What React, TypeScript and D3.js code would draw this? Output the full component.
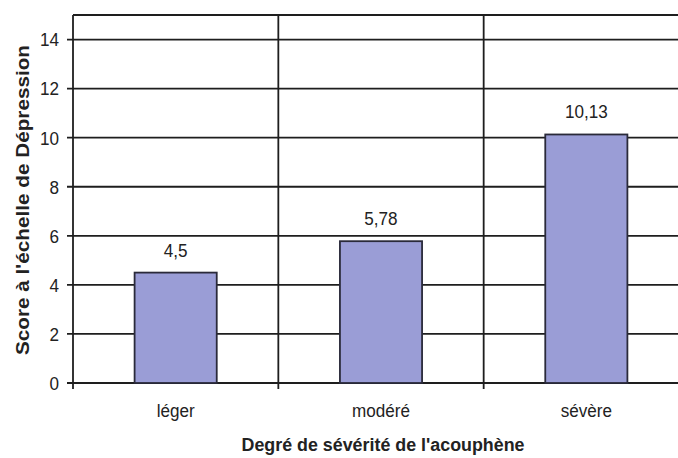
import React from "react";
import * as d3 from "d3";

const categories = ["léger", "modéré", "sévère"];
const values = [4.5, 5.78, 10.13];
const valueLabels = ["4,5", "5,78", "10,13"];
const yTicks = [0, 2, 4, 6, 8, 10, 12, 14];
const yTitle = "Score à l'échelle de Dépression";
const xTitle = "Degré de sévérité de l'acouphène";

const W = 678;
const H = 458;
const left = 73;
const right = 689;
const top = 15;
const bottom = 383;

const font = "'Liberation Sans', Arial, sans-serif";

function NText({ x, y, anchor, children, dy }: { x: number; y: number; anchor: string; children: React.ReactNode; dy?: string }) {
  return (
    <g transform={`translate(${x},${y}) scale(0.9,1)`}>
      <text x={0} y={0} dy={dy} textAnchor={anchor} fontFamily={font} fontSize={19} fill="#222">
        {children}
      </text>
    </g>
  );
}

export default function App() {
  const x = d3.scaleBand<string>().domain(categories).range([left, right]).paddingInner(0).paddingOuter(0);
  const y = d3.scaleLinear().domain([0, 15]).range([bottom, top]);
  const bw = x.bandwidth() * 0.4;
  const line = "#1e1e1e";
  return (
    <svg width={W} height={H} style={{ position: "absolute", left: 0, top: 0, background: "#fff" }}>
      <rect x={0} y={0} width={W} height={H} fill="#fff" />
      <line x1={left} x2={right} y1={top} y2={top} stroke={line} strokeWidth={1.8} />
      {yTicks.map((t) => (
        <g key={t}>
          <line x1={left - 6} x2={right} y1={y(t)} y2={y(t)} stroke={line} strokeWidth={t === 0 ? 2.2 : 1.8} />
          <NText x={59} y={y(t)} dy="0.36em" anchor="end">
            {t}
          </NText>
        </g>
      ))}
      {categories.map((c) => (
        <line key={c} x1={x(c)!} x2={x(c)!} y1={top} y2={bottom + 6} stroke={line} strokeWidth={1.8} />
      ))}
      {categories.map((c, i) => {
        const cx = x(c)! + x.bandwidth() / 2;
        return (
          <g key={c}>
            <rect
              x={cx - bw / 2}
              y={y(values[i])}
              width={bw}
              height={y(0) - y(values[i])}
              fill="#9a9dd6"
              stroke="#2a2a3a"
              strokeWidth={1.8}
            />
            <NText x={cx} y={y(values[i]) - 16} anchor="middle">
              {valueLabels[i]}
            </NText>
            <NText x={cx} y={417} anchor="middle">
              {c}
            </NText>
          </g>
        );
      })}
      <text
        x={383}
        y={451}
        textAnchor="middle"
        fontFamily={font}
        fontSize={18}
        fontWeight="bold"
        fill="#222"
        textLength={283}
        lengthAdjust="spacingAndGlyphs"
      >
        {xTitle}
      </text>
      <text
        transform={`translate(29,200) rotate(-90)`}
        textAnchor="middle"
        fontFamily={font}
        fontSize={18}
        fontWeight="bold"
        fill="#222"
        textLength={310}
        lengthAdjust="spacingAndGlyphs"
      >
        {yTitle}
      </text>
    </svg>
  );
}
